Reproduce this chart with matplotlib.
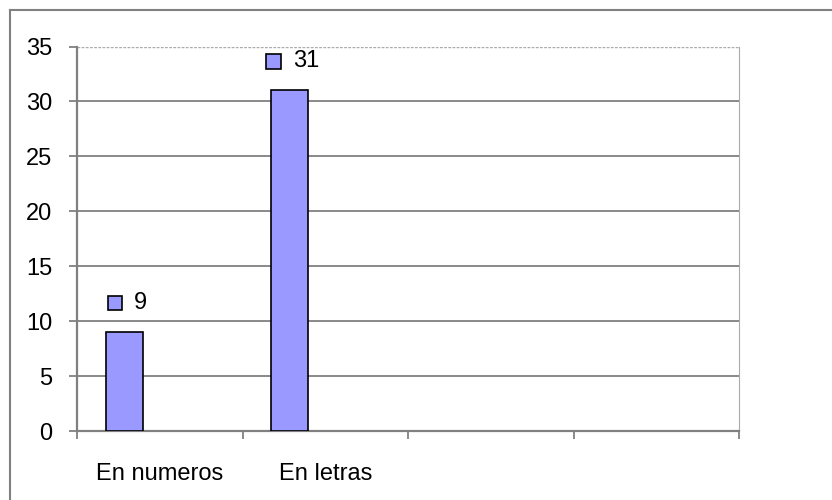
import matplotlib
matplotlib.use('Agg')
import matplotlib.pyplot as plt
from matplotlib.lines import Line2D
from matplotlib.patches import Rectangle
from matplotlib.offsetbox import AnnotationBbox, DrawingArea, TextArea, HPacker

plt.rcParams['font.family'] = ['Liberation Sans', 'DejaVu Sans']

# data
categories = ['En numeros', 'En letras']
values = [9, 31]
n_slots = 4
y_ticks = [0, 5, 10, 15, 20, 25, 30, 35]

bar_color = '#9999FF'
grid_color = '#808080'

fig = plt.figure(figsize=(8.32, 5.0), dpi=100)
ax = fig.add_axes([77 / 832, 69 / 500, 662 / 832, 384.5 / 500])

# outer chart border (top and left visible)
fig.add_artist(Line2D([10 / 832, 10 / 832], [0, 1 - 10 / 500], color=grid_color, lw=1.5, transform=fig.transFigure))
fig.add_artist(Line2D([10 / 832, 1], [1 - 10 / 500, 1 - 10 / 500], color=grid_color, lw=1.5, transform=fig.transFigure))

xs = list(range(len(categories)))
bar_x = [x - 0.215 for x in xs]
bars = ax.bar(bar_x, values, width=0.224, color=bar_color, edgecolor='black', linewidth=1.2, zorder=3)

ax.set_xlim(-0.5, n_slots - 0.5)
ax.set_ylim(0, 35)
ax.set_yticks(y_ticks)
ax.set_yticklabels([str(t) for t in y_ticks], fontsize=17)

for t in y_ticks[1:-1]:
    ax.axhline(t, color=grid_color, lw=1.3, zorder=1)
ax.axhline(35, color='#aaaaaa', lw=1, ls=(0, (2, 1)), zorder=1)

# category boundary ticks, labels centred on slots
ax.set_xticks([i - 0.5 for i in range(n_slots + 1)])
ax.set_xticklabels([])
ax.set_xticks(xs, minor=True)
ax.set_xticklabels(categories, minor=True, fontsize=17)
ax.tick_params(axis='x', which='minor', length=0, pad=23)
ax.tick_params(axis='x', which='major', length=6, width=1.3, color=grid_color, direction='out')
ax.tick_params(axis='y', length=6, width=1.3, color=grid_color, direction='out', pad=12)

for side in ['left', 'bottom']:
    ax.spines[side].set_color(grid_color)
    ax.spines[side].set_linewidth(1.6)
ax.spines['right'].set_color('#aaaaaa')
ax.spines['right'].set_linestyle((0, (2, 1)))
ax.spines['top'].set_visible(False)

# data labels with legend key
for bx, v in zip(bar_x, values):
    da = DrawingArea(11.5, 11.5, 0, 0)
    da.add_artist(Rectangle((0.5, 0.5), 10.5, 10.5, facecolor=bar_color, edgecolor='black', lw=1.2))
    ta = TextArea(str(v), textprops=dict(fontsize=17))
    box = HPacker(children=[da, ta], align='center', pad=0, sep=8)
    ab = AnnotationBbox(box, (bx, v), xybox=(2, 21), xycoords='data', boxcoords='offset points',
                        frameon=False, box_alignment=(0.5, 0.5))
    ax.add_artist(ab)

fig.savefig('out.png', dpi=100)
